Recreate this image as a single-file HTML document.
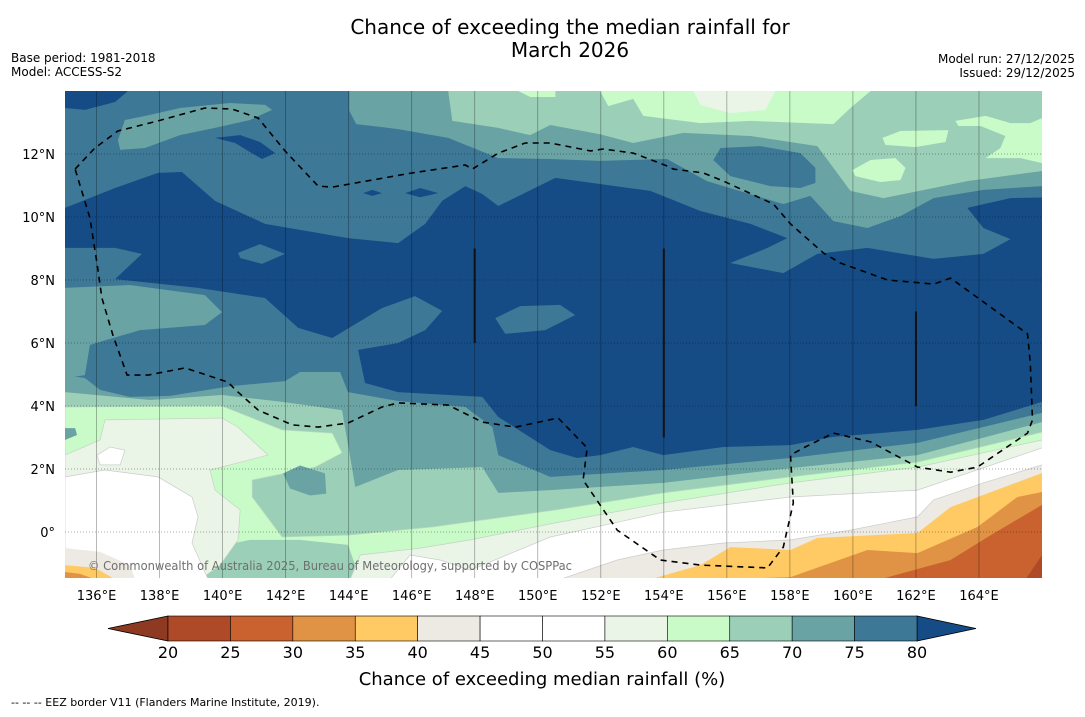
<!DOCTYPE html>
<html><head><meta charset="utf-8">
<style>
html,body{margin:0;padding:0;background:#fff;}
body{width:1085px;height:713px;overflow:hidden;font-family:"DejaVu Sans","Liberation Sans",sans-serif;}
svg text{font-family:"DejaVu Sans","Liberation Sans",sans-serif;}
</style></head>
<body>
<svg id="chart" width="1085" height="713" viewBox="0 0 1085 713" xmlns="http://www.w3.org/2000/svg">
  <text x="570" y="34" font-size="20" text-anchor="middle" fill="#000">Chance of exceeding the median rainfall for</text>
  <text x="570" y="57" font-size="20" text-anchor="middle" fill="#000">March 2026</text>
  <text x="11" y="62" font-size="12">Base period: 1981-2018</text>
  <text x="11" y="76" font-size="12">Model: ACCESS-S2</text>
  <text x="1075" y="63" font-size="12" text-anchor="end">Model run: 27/12/2025</text>
  <text x="1075" y="77" font-size="12" text-anchor="end">Issued: 29/12/2025</text>
  <defs><clipPath id="mapclip"><rect x="65" y="91" width="977" height="487"/></clipPath></defs>
  <g id="map" clip-path="url(#mapclip)"></g>
  <g id="axes"></g>
  <g id="cbar"></g>
  <text x="542" y="685" font-size="18" text-anchor="middle">Chance of exceeding median rainfall (%)</text>
  <text x="11" y="706" font-size="11">--  --  -- EEZ border V11 (Flanders Marine Institute, 2019).</text>
</svg>
<script>
// ---- data ----
const levels = [20,25,30,35,40,45,50,55,60,65,70,75,80];
const binColors = ["#ae4a27","#c9622f","#e09344","#ffc964","#ede9e3","#ffffff","#ffffff","#eaf5e8","#c9fbc9","#9ccfb8","#6aa3a3","#3d7897"];
const underColor = "#8e3a22";
const overColor = "#154c85";
const lonTicks = [136,138,140,142,144,146,148,150,152,154,156,158,160,162,164];
const latTicks = [12,10,8,6,4,2,0];
const lonTickLabels = ["136°E","138°E","140°E","142°E","144°E","146°E","148°E","150°E","152°E","154°E","156°E","158°E","160°E","162°E","164°E"];
const latTickLabels = ["12°N","10°N","8°N","6°N","4°N","2°N","0°"];

const darkRegion = [[135,10.29],[136.59,10.92],[137.95,11.40],[138.71,11.43],[139.76,10.51],[141.35,9.78],[143.98,9.33],[145.57,9.17],[146.43,9.78],[146.97,10.51],[147.70,10.98],[148.24,10.73],[148.75,10.35],[150.56,11.24],[153.57,10.83],[155.16,10.19],[156.75,9.78],[157.92,9.33],[157.29,9.02],[156.11,8.54],[157.79,8.22],[158.87,8.83],[160.46,9.02],[162.56,8.67],[164.14,8.83],[165,9.30],[164.14,9.65],[163.63,10.29],[165,10.60],[166,10.62],[166,4.13],[164.14,3.56],[162.05,3.24],[159.38,3.02],[158.02,2.76],[155.89,2.70],[153.98,2.44],[153.03,2.70],[151.98,2.44],[151.25,2.35],[150.40,2.60],[148.75,3.65],[148.24,4.29],[145.57,4.44],[144.52,4.73],[144.30,5.78],[145.57,6.0],[146.43,6.41],[146.97,7.02],[146.11,7.49],[145.06,7.11],[143.48,6.16],[142.40,6.48],[141.35,7.43],[139.22,7.75],[136.59,8.03],[137.44,8.83],[136.59,9.02],[135,9.02]];
const darkBlobs = [
 [[135,14],[137,14],[136.59,13.65],[135.63,13.40],[135,13.46]],
 [[139.76,12.51],[140.56,12.60],[141.19,12.38],[141.67,12.03],[141.25,11.84],[140.87,12.06],[140.40,12.35]],
 [[145.79,10.76],[146.27,10.92],[146.84,10.76],[146.27,10.63]],
 [[144.46,10.76],[144.75,10.86],[145.06,10.76],[144.75,10.67]]
];
const blobs7580 = [
 [[140.49,8.86],[141.19,9.14],[141.98,8.83],[141.25,8.51],[140.56,8.70]],
 [[148.65,6.79],[149.44,7.17],[150.71,7.21],[151.19,6.89],[150.24,6.41],[148.97,6.29]]
];
const north7075 = [[144.02,14],[144.02,13.37],[144.24,12.95],[145.57,12.79],[147.16,12.51],[148.75,11.87],[150.40,11.84],[151.98,11.78],[154.10,11.84],[155.37,11.14],[157.79,10.41],[158.65,10.67],[159.38,9.87],[160.46,9.65],[161.51,10.03],[162.56,10.60],[164.14,10.86],[166,10.98],[166,14]];
const blob7075NW = [[136.68,12.44],[136.90,13.08],[137.70,13.24],[138.65,13.46],[140.24,13.62],[141.35,13.56],[141.57,13.40],[140.87,13.08],[139.76,12.83],[138.65,12.60],[137.54,12.19],[136.75,12.13]];
const blob7580N = [[155.57,11.81],[155.80,12.19],[157.06,12.25],[158.33,12.03],[158.81,11.56],[158.81,11.08],[158.33,10.92],[157.38,10.98],[156.11,11.30]];
const north6570 = [[147.16,14],[147.29,13.05],[148.75,12.83],[149.76,12.60],[150.40,12.92],[151.98,12.63],[153.03,12.35],[154.62,12.67],[156.75,12.57],[158.87,12.25],[159.38,11.56],[159.92,10.83],[160.97,10.60],[162.56,10.92],[163.63,11.14],[166,11.46],[166,14]];
const north6065 = [
 [[151.98,14],[152.24,13.52],[153.03,13.75],[153.35,13.21],[155.16,12.98],[156.75,13.05],[159.38,12.95],[159.92,13.46],[160.56,14]],
 [[149.38,14],[149.76,13.81],[150.56,13.81],[150.56,14]],
 [[160.94,12.51],[161.51,12.73],[163.03,12.76],[162.94,12.38],[161.98,12.22],[161.03,12.29]],
 [[159.98,11.49],[160.56,11.81],[161.35,11.87],[161.67,11.56],[161.51,11.17],[160.87,11.11],[160.08,11.30]],
 [[163.25,13.05],[164.21,13.21],[165,12.98],[165.63,12.98],[166,13.14],[166,11.71],[165.32,11.87],[164.21,11.87],[164.68,12.19],[164.84,12.57],[164.05,12.89],[163.35,12.89]]
];
const north5560 = [[154.94,14],[155.16,13.56],[156.11,13.30],[157.22,13.40],[157.54,14]];
const blob7075W = [[135,7.75],[137.06,7.84],[139.44,7.52],[139.98,6.98],[139.44,6.57],[137.38,6.41],[135.79,5.94],[135.63,4.98],[135,4.89]];
const south7075 = [[135,4.98],[135.63,4.89],[136.11,4.51],[137.06,4.29],[138.33,4.32],[140.24,4.63],[141.98,4.79],[142.46,5.08],[143.73,5.08],[143.98,4.44],[145.57,4.16],[147.70,3.97],[148.56,3.33],[148.75,2.44],[150.40,1.75],[153.98,1.97],[158.02,2.35],[162.05,2.83],[166,3.78]];
const south6570 = [[135,4.44],[137.70,4.19],[139.98,4.35],[141.89,4.13],[143.79,3.87],[144.21,1.43],[145.57,1.97],[148.24,2.06],[148.75,1.24],[150.40,1.33],[153.98,1.56],[158.02,2.03],[162.05,2.44],[166,3.49]];
const south6065 = [[135,3.97],[139.98,4.0],[141.89,3.24],[143.48,3.14],[143.79,2.51],[142.94,2.06],[140.94,1.65],[140.94,1.11],[141.89,-0.16],[143.98,-0.10],[146.65,0.16],[150.56,0.70],[153.98,1.24],[158.02,1.75],[162.05,2.22],[166,3.17]];
const blobs7075S = [
 [[141.92,1.86],[142.46,2.11],[143.25,1.86],[143.29,1.22],[142.78,1.16],[142.14,1.38]],
 [[135,3.30],[135.32,3.30],[135.38,3.08],[135,2.92]]
];
const blob6570S = [[139.03,-1.5],[139.29,-0.57],[140.87,-0.25],[142.46,-0.25],[143.98,-0.41],[144.37,-1.5]];
const south5560 = [[135,2.44],[136.11,2.92],[136.27,3.56],[139.98,3.62],[140.49,3.33],[141.44,2.44],[139.60,1.97],[139.76,1.33],[140.56,0.70],[140.49,-0.25],[139.92,-1.05],[139.29,-1.5],[144.05,-1.5],[144.37,-0.73],[146.27,-0.51],[147.86,-0.25],[150.56,0.29],[153.98,0.92],[158.02,1.56],[162.05,2.06],[166,2.92]];
const blobWhite = [[136.02,2.44],[136.43,2.70],[136.90,2.60],[136.75,2.13],[136.11,2.13]];
const southWhite = [[135,1.75],[136.27,1.97],[137.95,1.75],[139.03,1.11],[139.22,0.48],[139.03,-0.35],[139.54,-1.5],[145.32,-1.5],[145.95,-0.73],[146.90,-0.89],[147.86,-1.21],[150.40,-0.16],[153.98,0.63],[158.02,1.11],[162.05,1.33],[166,2.67]];
const south4045 = [[150.71,-1.5],[152.52,-0.89],[153.98,-0.57],[155.89,-0.35],[158.02,-0.25],[159.92,0.06],[162.05,0.48],[162.56,1.02],[164.14,1.56],[166,2.13]];
const west4045 = [[135,-0.51],[136.11,-0.63],[137.06,-1.05],[137.22,-1.5],[135,-1.5]];
const south3540 = [[153.57,-1.5],[155.16,-1.05],[156.11,-0.48],[158.02,-0.57],[158.87,-0.19],[162.05,-0.03],[163.10,0.79],[166,1.87]];
const west3540 = [[135,-1.05],[135.95,-1.14],[136.59,-1.5],[135,-1.5]];
const south3035 = [[155.89,-1.5],[158.02,-1.43],[160.46,-0.57],[162.05,-0.67],[163.95,0.16],[165.22,1.11],[166,1.27]];
const west3035 = [[135,-1.27],[135.48,-1.33],[135.95,-1.5],[135,-1.5]];
const south2530 = [[160.87,-1.5],[163.10,-0.89],[164.37,-0.10],[166,0.86]];
const south2025 = [[165.48,-1.5],[166,-0.73]];
const eezBorder = [[135.32,11.52],[135.95,12.19],[136.68,12.73],[137.95,13.05],[139.44,13.46],[140.30,13.43],[141.13,13.14],[141.98,12.10],[143.03,10.98],[143.48,10.95],[146.02,11.40],[147.70,11.65],[147.92,11.52],[148.75,12.03],[149.60,12.35],[150.40,12.35],[151.67,12.10],[152.08,12.16],[153.03,12.03],[154.11,11.62],[154.30,11.52],[155.25,11.40],[155.89,11.14],[157.48,10.41],[158.02,9.78],[159.06,8.86],[159.60,8.54],[161.10,8.0],[162.56,7.87],[163.10,8.06],[165.54,6.29],[165.63,5.37],[165.70,3.56],[165.54,3.14],[163.95,2.06],[163.10,1.90],[162.05,2.06],[160.56,2.86],[159.38,3.14],[158.43,2.67],[158.02,2.44],[158.11,0.92],[157.79,-0.48],[157.29,-1.14],[155.16,-1.05],[153.89,-0.89],[152.52,0.06],[151.44,1.65],[151.57,2.67],[150.65,3.62],[149.29,3.33],[148.24,3.49],[147.48,3.87],[147.16,4.03],[145.57,4.10],[145.06,3.97],[143.98,3.46],[143.03,3.33],[142.21,3.40],[141.13,3.87],[140.49,4.44],[140.17,4.76],[138.81,5.21],[137.63,4.98],[136.97,4.98],[136.52,6.25],[136.17,7.43],[136.02,8.51],[135.79,9.97],[135.32,11.52]];
const stripeLines = [[148,9.0,6.0],[154,9.0,3.0],[162,7.0,4.0]];

// ---- axes ----
const X0=65, X1=1042, Y0=91, Y1=578;
const LON0=135, LON1=166, LAT0=14, LAT1=-1.46;
const px=lon=>X0+(lon-LON0)*(X1-X0)/(LON1-LON0);
const py=lat=>Y0+(LAT0-lat)*(Y1-Y0)/(LAT0-LAT1);
const NS="http://www.w3.org/2000/svg";
const map=document.getElementById('map');
function mk(tag,attrs,parent){const e=document.createElementNS(NS,tag);for(const k in attrs)e.setAttribute(k,attrs[k]);parent.appendChild(e);return e;}
function ptsStr(arr){return arr.map(p=>px(p[0]).toFixed(1)+','+py(p[1]).toFixed(1)).join(' ');}
function poly(arr,fill,name,stroke){const e=mk('polygon',{points:ptsStr(arr),fill:fill,stroke:stroke||'none','stroke-width':0.7},map);


return e;}
function southBand(line,fill,name,stroke){const arr=[[LON0,-3]].concat(line).concat([[LON1+1,line[line.length-1][1]],[LON1+1,-3]]);return poly(arr,fill,name,stroke);}

const base=mk('rect',{x:X0,y:Y0,width:X1-X0,height:Y1-Y0,fill:binColors[11]},map);


poly(darkRegion,overColor,'band-above-80');
darkBlobs.forEach(b=>poly(b,overColor,'band-above-80-patch'));
blobs7580.forEach(b=>poly(b,binColors[11],'band-75-80-patch'));
poly(north7075,binColors[10],'band-70-75-north');
poly(blob7075NW,binColors[10],'band-70-75-patch');
poly(blob7580N,binColors[11],'band-75-80-patch');
poly(north6570,binColors[9],'band-65-70-north');
north6065.forEach(b=>poly(b,binColors[8],'band-60-65-north'));
poly(north5560,binColors[7],'band-55-60-north');
poly(blob7075W,binColors[10],'band-70-75-west');
southBand(south7075,binColors[10],'band-70-75-south');
southBand(south6570,binColors[9],'band-65-70-south');
southBand(south6065,binColors[8],'band-60-65-south','#b9d9bf');
blobs7075S.forEach(b=>poly(b,binColors[10],'band-70-75-patch'));
poly(blob6570S,binColors[9],'band-65-70-patch');
southBand(south5560,binColors[7],'band-55-60-south','#c4d2c4');
poly(blobWhite,binColors[5],'band-50-55-patch','#cccccc');
southBand(southWhite,binColors[5],'band-45-55-south','#cccccc');
southBand(south4045,binColors[4],'band-40-45-south','#cccccc');
poly(west4045,binColors[4],'band-40-45-west');
southBand(south3540,binColors[3],'band-35-40-south');
poly(west3540,binColors[3],'band-35-40-west');
southBand(south3035,binColors[2],'band-30-35-south');
poly(west3035,binColors[2],'band-30-35-west');
southBand(south2530,binColors[1],'band-25-30-south');
southBand(south2025,binColors[0],'band-20-25-south');

// grid
lonTicks.forEach(l=>{const g=mk('line',{x1:px(l),x2:px(l),y1:Y0,y2:Y1,stroke:'rgba(0,0,0,0.35)','stroke-width':0.8},map);

});
latTicks.forEach(l=>{const g=mk('line',{x1:X0,x2:X1,y1:py(l),y2:py(l),stroke:'rgba(0,0,0,0.45)','stroke-width':0.8,'stroke-dasharray':'1,2'},map);

});
stripeLines.forEach(s=>{const g=mk('line',{x1:px(s[0]),x2:px(s[0]),y1:py(s[1]),y2:py(s[2]),stroke:'#111','stroke-width':2},map);

});
const eez=mk('polyline',{points:ptsStr(eezBorder),fill:'none',stroke:'#000','stroke-width':1.6,'stroke-dasharray':'6,5'},map);


const cr=mk('text',{x:88,y:570,'font-size':12,fill:'#6f6f6f',textLength:484,lengthAdjust:'spacingAndGlyphs'},map);
cr.textContent='© Commonwealth of Australia 2025, Bureau of Meteorology, supported by COSPPac';



const axes=document.getElementById('axes');
lonTicks.forEach((l,i)=>{const t=mk('text',{x:px(l),y:600,'font-size':13,'text-anchor':'middle'},axes);t.textContent=lonTickLabels[i];

});
latTicks.forEach((l,i)=>{const t=mk('text',{x:55,y:py(l)+5,'font-size':13,'text-anchor':'end'},axes);t.textContent=latTickLabels[i];

});

// colorbar
const cb=document.getElementById('cbar');
const CB0=168, CB1=917, CBY=616, CBH=25;
const cx=v=>CB0+(v-levels[0])*(CB1-CB0)/(levels[levels.length-1]-levels[0]);
const lt=mk('polygon',{points:`108,${CBY+CBH/2} ${CB0},${CBY} ${CB0},${CBY+CBH}`,fill:underColor,stroke:'#000','stroke-width':0.8},cb);


const rt=mk('polygon',{points:`976,${CBY+CBH/2} ${CB1},${CBY} ${CB1},${CBY+CBH}`,fill:overColor,stroke:'#000','stroke-width':0.8},cb);


binColors.forEach((c,i)=>{const r=mk('rect',{x:cx(levels[i]),y:CBY,width:cx(levels[i+1])-cx(levels[i]),height:CBH,fill:c,stroke:'#000','stroke-width':0.6},cb);

});
levels.forEach(v=>{const t=mk('text',{x:cx(v),y:658,'font-size':16,'text-anchor':'middle'},cb);t.textContent=v;

});
</script>
</body></html>
